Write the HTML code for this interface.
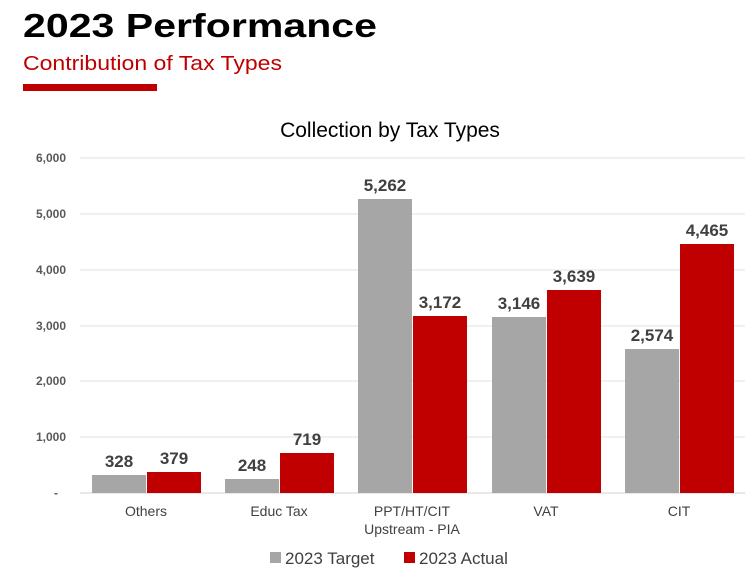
<!DOCTYPE html>
<html><head><meta charset="utf-8"><style>body{margin:0;background:#fff}svg{display:block}</style></head><body>
<svg width="750" height="582" xmlns="http://www.w3.org/2000/svg" font-family="Liberation Sans, sans-serif">
<text x="23" y="37" font-size="33" font-weight="bold" fill="#000" textLength="354" lengthAdjust="spacingAndGlyphs">2023 Performance</text>
<text x="23" y="70" font-size="20" fill="#c00000" textLength="259" lengthAdjust="spacingAndGlyphs">Contribution of Tax Types</text>
<rect x="23" y="84" width="134" height="7" fill="#c00000"/>
<text x="390" y="137" font-size="21" fill="#000" text-anchor="middle">Collection by Tax Types</text>
<g stroke="#e0e0e0" stroke-width="1">
<line x1="80" x2="745" y1="158" y2="158"/><line x1="80" x2="745" y1="214" y2="214"/><line x1="80" x2="745" y1="270" y2="270"/><line x1="80" x2="745" y1="326" y2="326"/><line x1="80" x2="745" y1="381" y2="381"/><line x1="80" x2="745" y1="437" y2="437"/><line x1="80" x2="745" y1="493" y2="493" stroke="#d0d0d0"/>
</g>
<g font-size="12" font-weight="bold" fill="#595959" text-anchor="end">
<text x="66" y="162">6,000</text><text x="66" y="218">5,000</text><text x="66" y="274">4,000</text><text x="66" y="330">3,000</text><text x="66" y="385">2,000</text><text x="66" y="441">1,000</text><text x="58" y="497">-</text>
</g>
<g fill="#a6a6a6">
<rect x="92" y="475" width="54" height="18"/><rect x="225" y="479" width="54" height="14"/><rect x="358" y="199" width="54" height="294"/><rect x="492" y="317" width="54" height="176"/><rect x="625" y="349" width="54" height="144"/>
</g>
<g fill="#c00000">
<rect x="147" y="472" width="54" height="21"/><rect x="280" y="453" width="54" height="40"/><rect x="413" y="316" width="54" height="177"/><rect x="547" y="290" width="54" height="203"/><rect x="680" y="244" width="54" height="249"/>
</g>
<g font-size="17" font-weight="bold" fill="#404040" text-anchor="middle">
<text x="119" y="467">328</text><text x="174" y="464">379</text>
<text x="252" y="471">248</text><text x="307" y="445">719</text>
<text x="385" y="191">5,262</text><text x="440" y="308">3,172</text>
<text x="519" y="309">3,146</text><text x="574" y="282">3,639</text>
<text x="652" y="341">2,574</text><text x="707" y="236">4,465</text>
</g>
<g font-size="14" fill="#404040" text-anchor="middle">
<text x="146" y="516">Others</text><text x="279" y="516">Educ Tax</text><text x="412" y="516">PPT/HT/CIT</text><text x="412" y="534">Upstream - PIA</text><text x="546" y="516">VAT</text><text x="679" y="516">CIT</text>
</g>
<rect x="270" y="552" width="11" height="11" fill="#a6a6a6"/>
<text x="285" y="564" font-size="17" fill="#404040">2023 Target</text>
<rect x="404" y="552" width="11" height="11" fill="#c00000"/>
<text x="419" y="564" font-size="17" fill="#404040">2023 Actual</text>
</svg>
</body></html>
